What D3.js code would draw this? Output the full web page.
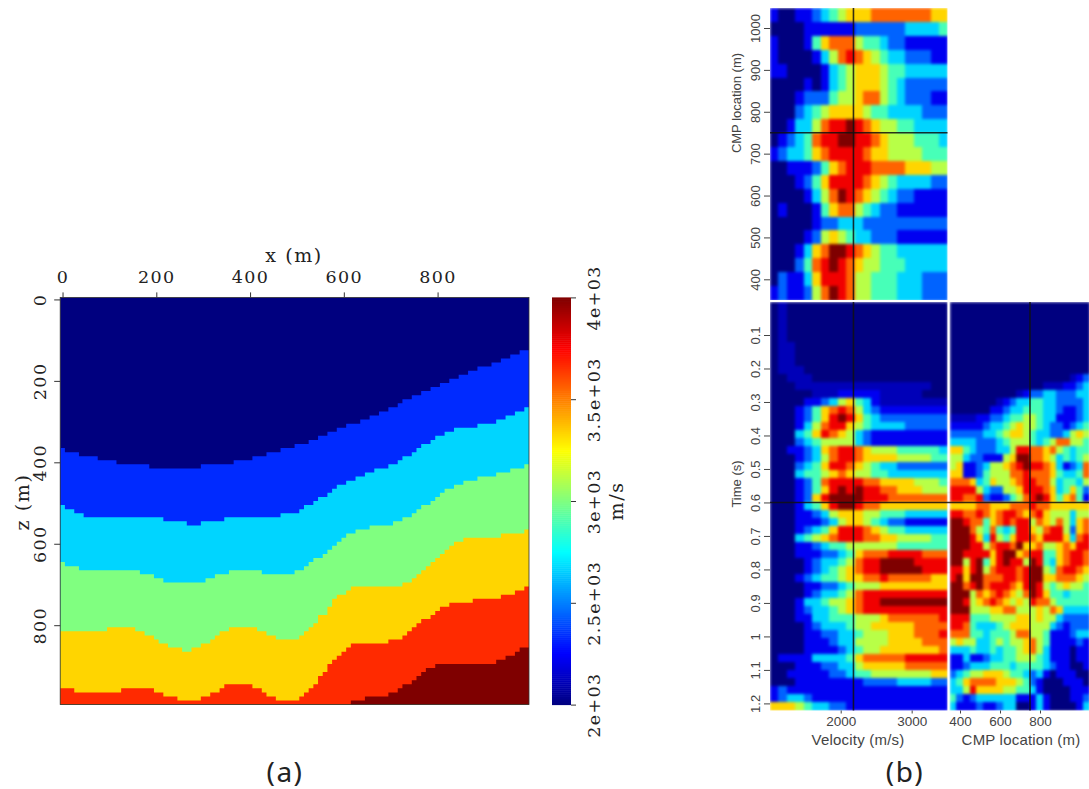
<!DOCTYPE html>
<html>
<head>
<meta charset="utf-8">
<script src="https://cdnjs.cloudflare.com/ajax/libs/d3/7.8.5/d3.min.js"></script>
<style>
  html, body { margin: 0; padding: 0; background: #fff; overflow: hidden; }
  svg { display: block; }
  .vm text { font-family: "DejaVu Serif", serif; font-size: 17.5px; letter-spacing: 1.4px; fill: #222; }
  .vm text.title { font-size: 19px; letter-spacing: 1.6px; }
  .vm line, .vm path { stroke: #333; stroke-width: 1px; }
  .scan text { font-family: "Liberation Sans", sans-serif; font-size: 13px; fill: #444; }
  .scan text.wide { font-size: 15px; letter-spacing: 0.2px; }
  .scan line { stroke: #444; }
  .scan path.domain { display: none; }
  .caption { font-family: "Noto Sans", sans-serif; font-size: 28px; letter-spacing: 1.5px; fill: #222; }
</style>
</head>
<body>
<svg id="fig" width="1089" height="789"></svg>
<script>
// (a) velocity model: layer tops as [x, z] steps, z holds until the next x
var layerVelocity = [2000, 2333, 2667, 3000, 3333, 3667, 4000]
var layerTop1 = [[0,370],[10,380],[40,390],[80,400],[120,410],[190,420],[300,410],[370,400],[410,390],[440,380],[470,370],[500,360],[530,350],[550,340],[570,330],[590,320],[610,310],[640,300],[660,290],[680,280],[700,270],[720,260],[730,250],[750,240],[770,230],[790,220],[810,210],[830,200],[850,190],[870,180],[890,170],[920,160],[940,150],[960,140],[980,130]]
var layerTop2 = [[0,510],[10,520],[30,530],[50,540],[220,550],[270,560],[300,550],[350,540],[470,530],[510,520],[520,510],[540,500],[550,490],[570,480],[580,470],[590,460],[610,450],[630,440],[650,430],[670,420],[700,410],[720,400],[730,390],[750,380],[760,370],[770,360],[790,350],[800,340],[820,330],[840,320],[890,310],[930,300],[950,290],[970,280],[990,270]]
var layerTop3 = [[0,650],[10,660],[40,670],[170,680],[200,690],[220,700],[310,690],[330,680],[360,670],[430,680],[500,670],[520,660],[530,650],[540,640],[560,630],[570,620],[580,610],[590,600],[600,590],[610,580],[630,570],[660,560],[710,550],[730,540],[750,530],[760,520],[770,510],[790,500],[800,490],[810,480],[820,470],[840,460],[860,450],[890,440],[930,430],[960,420],[990,410]]
var layerTop4 = [[0,820],[100,810],[160,820],[180,830],[200,840],[210,850],[230,860],[260,870],[280,860],[300,850],[320,840],[330,830],[340,820],[360,810],[420,820],[440,830],[460,840],[510,830],[520,820],[530,810],[540,800],[550,780],[570,760],[580,740],[590,730],[610,720],[620,710],[730,700],[750,690],[760,680],[770,670],[780,660],[790,650],[800,640],[810,630],[820,620],[830,610],[840,600],[860,590],[940,580],[990,570]]
var layerTop5 = [[0,960],[30,970],[130,960],[200,970],[220,980],[250,990],[300,980],[320,970],[340,960],[350,950],[410,960],[430,970],[440,980],[460,990],[510,980],[520,970],[530,960],[540,950],[550,930],[560,920],[570,900],[580,890],[590,880],[600,870],[610,860],[620,850],[700,840],[730,830],[740,820],[750,810],[760,800],[770,790],[790,780],[800,770],[810,760],[830,750],[880,740],[940,730],[970,720],[990,710]]
var layerTop6 = [[0,1000],[620,990],[650,980],[700,970],[720,960],[730,950],[750,940],[760,930],[770,920],[780,910],[800,900],[930,890],[950,880],[970,870],[980,860]]
var xTicks = [0, 200, 400, 600, 800]
var zTicks = [0, 200, 400, 600, 800]
var barTicks = [2000, 2500, 3000, 3500, 4000]
var barLabels = ['2e+03', '2.5e+03', '3e+03', '3.5e+03', '4e+03']

// (b) semblance levels, 0-9 (a = just above 0), one string per row
var cmpRows = [
  '100112345666777777766','000011111122222233334','100014677754432211111','100001357876543322211',
  '110000134566654433333','000010134566654322222','000122245567754322211','000234566665443333222',
  '001335788987655443333','012347889988765554443','123346788887665555444','001112467888777766655',
  '000124688887654333322','000013579876543221111','010001467754322111111','000001223332222222222',
  '000012565433222111111','000136799876544333333','000247898765544433333','021136888755444333222',
  '121125798755444333222']
var velocityRows = [
  '0a0000000000000000000','0a0000000000000000000','0a0000000000000000000','0a0000000000000000000',
  '0a0000000000000000000','0aa000000000000000000','0aa000000000000000000','0aa000000000000000000',
  '0aaa00000000000000000','00aaa0000000000000000','000aaaaaaaaaaaaaaaa00','00000aaa11111aaaaa000',
  '0000112356431aaaaaaaa','000124678753211111111','000124689864322222222','000135788654333322222',
  '000346876532111111111','000234555532111111111','001123678876555444443','000123578876666555544',
  '000234688765433222222','000344567655443333333','000124788887766665554','000124689898877666555',
  '000126899998887777777','000134689987766666666','000112356665544433333','000111235665432211111',
  '000123468887654433333','000345678887766555544','000112344555555444444','000111223467778888777',
  '000012334578899998888','000012345678899999888','000123445667787777766','000011223455566666666',
  '000012334578888888888','000133455678899999999','000123345678888888888','000113344455567777778',
  '000012333455666667777','000011223345556667778','000011123355556666777','000011112345566666667',
  '011113333467777788888','000111223356666677777','001111122344555555566','000111111112222333322',
  '121111111111111111111','123321111111111111111','666543322111111111111']
var sectionRows = [
  '000000000000000000000','000000000000000000000','000000000000000000000','000000000000000000000',
  '000000000000000000000','000000000000000000000','000000000000000000000','000000000000000000000',
  '000000000000000000000','000000000000000000a12','00000000000000aaa1123','0000000000a1223322233',
  '0000000a1233443322223','000000112334443321123','aaaa11223445543311123','111112334565543221234',
  '222223345665433223565','333322234555434577554','664322233588776754344','553221115699776534345',
  '561123556789887631237','661124555778777643347','777634655678877534435','888853225568887634642',
  '887782112457898646741','666677666777877666666','887787678876786555355','998774678788576575367',
  '999754743488657885267','999863854688768886378','999885788796675567688','998888689967884467887',
  '995894689885984367887','886895788878995478876','896997778878996677765','997897888768985456554',
  '999576787657986443444','998567876565877544444','999555667755565763333','888444555566565532222',
  '887433345666555321222','777443444577554111233','565533454556754111121','333433434456753111011',
  '113112334455543111011','112333444344443211001','234556665443231011100','346777766654210001110',
  '335866665544310000111','421233333311131000112','311121123300131000013']
var cmpTicks = [400, 500, 600, 700, 800, 900, 1000]
var timeTicks = [0.1, 0.2, 0.3, 0.4, 0.5, 0.6, 0.7, 0.8, 0.9, 1, 1.1, 1.2]
var velocityTicks = [2000, 3000]
var sectionTicks = [400, 600, 800]
var pickVelocity = 2180, pickCmp = 750, pickTime = 0.6

var svg = d3.select('#fig')
var defs = svg.append('defs')

var jet = d3.scaleLinear()
    .domain([0, 0.125, 0.375, 0.625, 0.875, 1])
    .range(['#00007f', '#0000ff', '#00ffff', '#ffff00', '#ff0000', '#7f0000'])

defs.append('filter').attr('id', 'soft').attr('x', '-2%').attr('y', '-2%').attr('width', '104%').attr('height', '104%')
    .attr('color-interpolation-filters', 'sRGB')
    .append('feGaussianBlur').attr('stdDeviation', 1.4).attr('edgeMode', 'duplicate')
defs.append('filter').attr('id', 'softer')
    .attr('color-interpolation-filters', 'sRGB')
    .append('feGaussianBlur').attr('stdDeviation', 0.45)

drawModel()
drawScan()

function drawModel(){
    var g = svg.append('g').attr('class', 'vm')
    var x = d3.scaleLinear().domain([-5, 995]).range([60.2, 529])
    var z = d3.scaleLinear().domain([-5, 995]).range([297.4, 704.6])
    var vel = d3.scaleLinear().domain([2000, 4000]).range([704.6, 297.4])
    var t = d3.scaleLinear().domain([2000, 4000]).range([0, 1])

    var area = d3.area()
        .curve(d3.curveStepAfter)
        .x(function(d){ return x(d[0] - 5) })
        .y0(z(995))
        .y1(function(d){ return z(Math.min(d[1] - 5, 995)) })

    var layers = [[[0, 0]], layerTop1, layerTop2, layerTop3, layerTop4, layerTop5, layerTop6]
    g.append('g').attr('filter', 'url(#softer)')
        .selectAll('path').data(layers).join('path')
        .attr('d', function(d){ return area(d.concat([[1000, d[d.length - 1][1]]])) })
        .attr('fill', function(d, i){ return jet(t(layerVelocity[i])) })
        .style('stroke', 'none')

    g.append('rect').attr('x', x(-5)).attr('y', z(-5)).attr('width', x(995) - x(-5)).attr('height', z(995) - z(-5))
        .attr('fill', 'none').attr('stroke', '#333').attr('stroke-width', 0.8)

    g.append('g').attr('transform', 'translate(0,' + z(-5) + ')')
        .call(d3.axisTop(x).tickValues(xTicks).tickSize(5).tickSizeOuter(0).tickPadding(9))
        .call(function(s){ s.select('.domain').remove() })
        .selectAll('text').attr('font-family', null).attr('font-size', null)

    g.append('g').attr('transform', 'translate(' + x(-5) + ',0)')
        .call(d3.axisLeft(z).tickValues(zTicks).tickSize(6).tickSizeOuter(0))
        .call(function(s){ s.select('.domain').remove() })
        .selectAll('.tick text').attr('x', null).attr('dy', null).attr('text-anchor', 'middle')
        .attr('transform', 'translate(-14,0) rotate(-90)')

    g.append('text').attr('class', 'title').attr('transform', 'translate(294,262)').attr('text-anchor', 'middle').text('x (m)')
    g.append('text').attr('class', 'title').attr('transform', 'translate(29,502) rotate(-90)').attr('text-anchor', 'middle').text('z (m)')

    // colour bar
    var barRows = d3.range(2000, 4000, 10)
    g.append('g').selectAll('rect').data(barRows).join('rect')
        .attr('x', 552).attr('width', 19)
        .attr('y', function(d){ return vel(d + 10) })
        .attr('height', function(d){ return vel(d) - vel(d + 10) + 0.5 })
        .attr('fill', function(d){ return jet(t(d + 5)) })
        .style('stroke', 'none')
    g.append('g').attr('transform', 'translate(571,0)')
        .call(d3.axisRight(vel).tickValues(barTicks).tickSize(5).tickSizeOuter(0)
            .tickFormat(function(d, i){ return barLabels[i] }))
        .call(function(s){ s.select('.domain').remove() })
        .selectAll('.tick text').attr('x', null).attr('dy', null).attr('text-anchor', 'middle')
        .attr('transform', 'translate(29,0) rotate(-90)')
    g.append('text').attr('class', 'title').attr('transform', 'translate(623,501) rotate(-90)').attr('text-anchor', 'middle').text('m/s')
}

function level(ch){ return ch === 'a' ? 0.5 / 9 : +ch / 9 }

function heat(parent, rows, xRange, yRange, clipId){
    var nx = rows[0].length
    var bx = d3.scaleBand().domain(d3.range(nx)).range(xRange)
    var by = d3.scaleBand().domain(d3.range(rows.length)).range(yRange)
    var cells = []
    rows.forEach(function(row, j){
        row.split('').forEach(function(ch, i){ cells.push({i: i, j: j, v: level(ch)}) })
    })
    defs.append('clipPath').attr('id', clipId).append('rect')
        .attr('x', xRange[0]).attr('y', Math.min(yRange[0], yRange[1]))
        .attr('width', xRange[1] - xRange[0]).attr('height', Math.abs(yRange[1] - yRange[0]))
    parent.append('g').attr('clip-path', 'url(#' + clipId + ')')
        .append('g').attr('filter', 'url(#soft)')
        .selectAll('rect').data(cells).join('rect')
        .attr('x', function(d){ return bx(d.i) })
        .attr('y', function(d){ return by(d.j) })
        .attr('width', bx.bandwidth() + 0.5)
        .attr('height', by.bandwidth() + 0.5)
        .attr('fill', function(d){ return jet(d.v) })
        .attr('shape-rendering', 'crispEdges')
}

function drawScan(){
    var g = svg.append('g').attr('class', 'scan')
    var left = [770, 947.5], mid = [949.5, 1089.5]
    var topY = [8, 300], botY = [302, 710.5]

    var vx = d3.scaleLinear().domain([1004, 3505]).range(left)
    var cmpY = d3.scaleLinear().domain([400, 1000]).range([279.3, 28])
    var cmpX = d3.scaleLinear().domain([400, 800]).range([960, 1040])
    var ty = d3.scaleLinear().domain([0.1, 1.2]).range([335, 703.4])

    heat(g, cmpRows, left, topY, 'clipCmp')
    heat(g, velocityRows, left, botY, 'clipVel')
    heat(g, sectionRows, mid, botY, 'clipSec')

    // pick cross hairs
    var hairs = [
        {x1: vx(pickVelocity), x2: vx(pickVelocity), y1: topY[0], y2: topY[1]},
        {x1: left[0], x2: left[1], y1: cmpY(pickCmp), y2: cmpY(pickCmp)},
        {x1: vx(pickVelocity), x2: vx(pickVelocity), y1: botY[0], y2: botY[1]},
        {x1: cmpX(pickCmp), x2: cmpX(pickCmp), y1: botY[0], y2: botY[1]},
        {x1: left[0], x2: mid[1], y1: ty(pickTime), y2: ty(pickTime)}
    ]
    g.append('g').selectAll('line').data(hairs).join('line')
        .attr('x1', function(d){ return d.x1 }).attr('x2', function(d){ return d.x2 })
        .attr('y1', function(d){ return d.y1 }).attr('y2', function(d){ return d.y2 })
        .style('stroke', '#111').style('stroke-width', 1.6).style('opacity', 0.85)

    function rotated(sel, dx){
        sel.selectAll('.tick text').attr('x', null).attr('dy', null).attr('text-anchor', 'middle')
            .attr('transform', 'translate(' + dx + ',0) rotate(-90)')
    }
    g.append('g').attr('transform', 'translate(770,0)')
        .call(d3.axisLeft(cmpY).tickValues(cmpTicks).tickSize(6).tickFormat(d3.format('d')))
        .call(rotated, -10)
    g.append('g').attr('transform', 'translate(770,0)')
        .call(d3.axisLeft(ty).tickValues(timeTicks).tickSize(6).tickFormat(d3.format('~g')))
        .call(rotated, -10)
    var bottomA = g.append('g').attr('transform', 'translate(0,710.5)')
        .call(d3.axisBottom(vx).tickValues(velocityTicks).tickSize(3).tickFormat(d3.format('d')).tickPadding(3))
    var bottomB = g.append('g').attr('transform', 'translate(0,710.5)')
        .call(d3.axisBottom(cmpX).tickValues(sectionTicks).tickSize(3).tickFormat(d3.format('d')).tickPadding(3))
    bottomA.selectAll('text').style('font-size', '13.5px')
    bottomB.selectAll('text').style('font-size', '13.5px')
    g.selectAll('g').attr('font-family', null).attr('font-size', null)

    g.append('text').attr('transform', 'translate(741,103) rotate(-90)').attr('text-anchor', 'middle').text('CMP location (m)')
    g.append('text').attr('transform', 'translate(741,484) rotate(-90)').attr('text-anchor', 'middle').text('Time (s)')
    g.append('text').attr('class', 'wide').attr('x', 858).attr('y', 745).attr('text-anchor', 'middle').text('Velocity (m/s)')
    g.append('text').attr('class', 'wide').attr('x', 1021).attr('y', 745).attr('text-anchor', 'middle').text('CMP location (m)')
}

svg.append('text').attr('class', 'caption').attr('x', 285).attr('y', 782).attr('text-anchor', 'middle').text('(a)')
svg.append('text').attr('class', 'caption').attr('x', 905).attr('y', 782).attr('text-anchor', 'middle').text('(b)')
</script>
</body>
</html>
